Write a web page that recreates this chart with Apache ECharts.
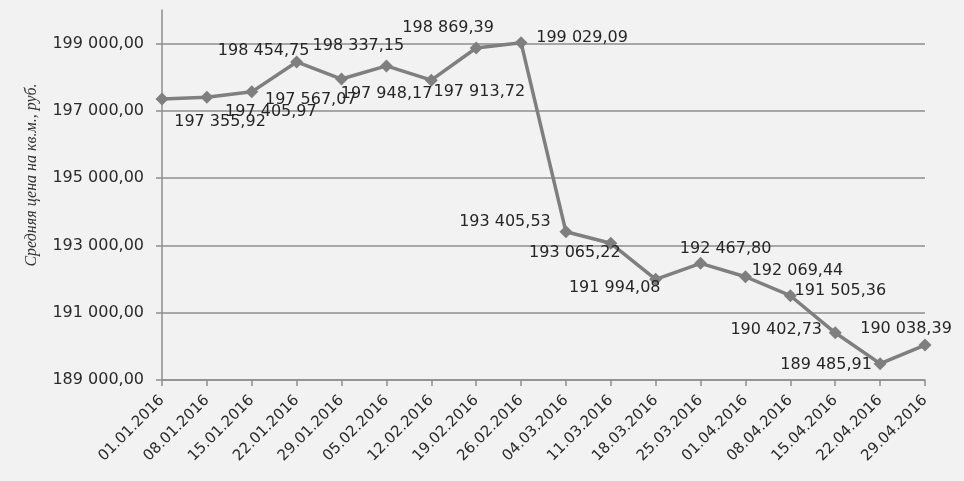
<!DOCTYPE html>
<html>
<head>
<meta charset="utf-8">
<script src="https://cdn.jsdelivr.net/npm/echarts@6/dist/echarts.min.js"></script>
<style>
  html, body { margin: 0; padding: 0; background: #f2f2f2; }
  #chart { width: 964px; height: 481px; }
</style>
</head>
<body>
<div id="chart"></div>
<script>
// weekly dates and average price per sq.m.
const dates = ['01.01.2016', '08.01.2016', '15.01.2016', '22.01.2016', '29.01.2016', '05.02.2016',
  '12.02.2016', '19.02.2016', '26.02.2016', '04.03.2016', '11.03.2016', '18.03.2016',
  '25.03.2016', '01.04.2016', '08.04.2016', '15.04.2016', '22.04.2016', '29.04.2016'];
const prices = [197355.92, 197405.97, 197567.07, 198454.75, 197948.17, 198337.15,
  197913.72, 198869.39, 199029.09, 193405.53, 193065.22, 191994.08,
  192467.80, 192069.44, 191505.36, 190402.73, 189485.91, 190038.39];
const yTicks = [189000, 191000, 193000, 195000, 197000, 199000];
const yTitle = 'Средняя цена на кв.м., руб.';

// where each value label sits relative to its marker (excel-style placement)
const labelOffsets = [[58, 23], [64, 15], [59, 8], [-33, -11], [45, 15], [-28, -20],
  [48, 12], [-28, -20], [61, -5], [-61, -10], [-36, 10], [-41, 9],
  [25, -15], [52, -6], [50, -5], [-59, -3], [-54, 1], [-19, -16]];

function fmt(v) {
  const parts = v.toFixed(2).split('.');
  return parts[0].replace(/\B(?=(\d{3})+(?!\d))/g, ' ') + ',' + parts[1];
}

const chart = echarts.init(document.getElementById('chart'));
const lineGray = '#7f7f7f';
const gridGray = '#8e8e8e';

chart.setOption({
  backgroundColor: '#f2f2f2',
  animation: false,
  grid: { left: 162, right: 39, top: 10, bottom: 101 },
  graphic: [{
    type: 'text',
    x: 32,
    y: 175,
    rotation: Math.PI / 2,
    style: {
      text: yTitle,
      fontFamily: 'Liberation Serif',
      fontStyle: 'italic',
      fontSize: 16,
      fill: '#333',
      align: 'center',
      verticalAlign: 'middle'
    }
  }],
  xAxis: {
    type: 'category',
    data: dates,
    boundaryGap: false,
    axisLine: { lineStyle: { color: gridGray, width: 1.5 } },
    axisTick: { show: true, length: 6, lineStyle: { color: gridGray, width: 1.5 } },
    axisLabel: {
      interval: 0,
      rotate: 45,
      margin: 18,
      color: '#2b2b2b',
      fontFamily: 'DejaVu Sans',
      fontSize: 15
    }
  },
  yAxis: {
    type: 'value',
    min: 189000,
    max: 200000,
    interval: 2000,
    axisLine: { show: true, lineStyle: { color: gridGray, width: 1.5 } },
    axisTick: { show: true, length: 6, customValues: yTicks, lineStyle: { color: gridGray, width: 1.5 } },
    axisLabel: {
      customValues: yTicks,
      margin: 18,
      color: '#2b2b2b',
      fontFamily: 'DejaVu Sans',
      fontSize: 16,
      formatter: v => fmt(v)
    },
    splitLine: {
      lineStyle: {
        color: [gridGray, gridGray, gridGray, gridGray, gridGray, gridGray, 'rgba(0,0,0,0)'],
        width: 1.5
      }
    }
  },
  series: [{
    type: 'line',
    symbol: 'diamond',
    symbolSize: 13,
    lineStyle: { color: lineGray, width: 3.5 },
    itemStyle: { color: lineGray },
    data: prices.map((v, i) => ({
      value: v,
      label: { offset: labelOffsets[i] }
    })),
    label: {
      show: true,
      position: 'inside',
      color: '#262626',
      fontFamily: 'DejaVu Sans',
      fontSize: 16,
      formatter: p => fmt(p.value)
    }
  }]
});
</script>
</body>
</html>
